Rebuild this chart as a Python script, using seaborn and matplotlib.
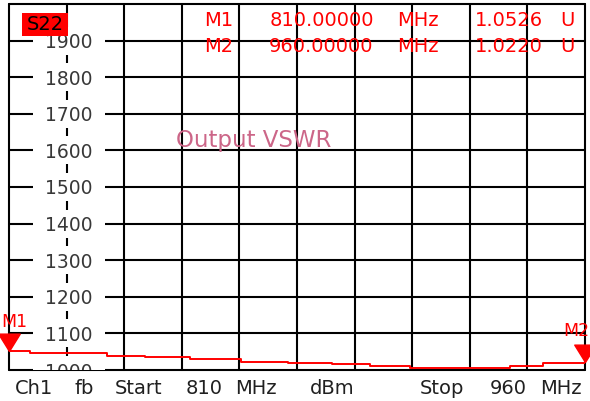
import matplotlib
matplotlib.use("Agg")
import matplotlib.pyplot as plt
from matplotlib.path import Path
from matplotlib.patches import Rectangle
import seaborn as sns

# trace (MHz, VSWR in milli-units)
freq_mhz = [810.0, 815.5, 835.5, 845.4, 857.1, 870.4, 882.7, 894.1, 904.0, 914.4, 940.5, 949.0, 960.0]
vswr_mu = [1052.6, 1047, 1038, 1035, 1030, 1023, 1020, 1016, 1011, 1006, 1011, 1018, 1022.0]

marker_names = ["M1", "M2"]
marker_freq = [810.0, 960.0]
marker_vswr = [1052.6, 1022.0]

x_ticks = [810 + 15 * i for i in range(11)]
y_ticks = list(range(1000, 2001, 100))
title = "Output VSWR"
trace_name = "S22"
footer_words = ["Ch1", "fb", "Start", "810", "MHz", "dBm", "Stop", "960", "MHz"]

W, H = 590, 401
RED = "#ff0000"

sns.set_style("white")
plt.rcParams["font.family"] = ["DejaVu Sans"]


def fx(x, y):
    # screen pixel -> figure fraction
    return x / W, 1 - y / H


fig = plt.figure(figsize=(W / 100, H / 100), dpi=100)
ax = fig.add_axes([9 / W, 1 - 370 / H, 576 / W, 366 / H])
ax.set_xlim(x_ticks[0], x_ticks[-1])
ax.set_ylim(y_ticks[0], y_ticks[-1])
ax.set_xticks([])
ax.set_yticks([])
for s in ax.spines.values():
    s.set_visible(False)

# graticule
for x in x_ticks:
    ax.axvline(x, color="black", lw=1.5, zorder=1, clip_on=False)
for y in y_ticks:
    ax.axhline(y, color="black", lw=1.5, zorder=1, clip_on=False)

# scale labels sit on the second vertical line, with a white patch behind
lab_x = 825.6
for v in y_ticks[:-1]:
    ax.add_patch(Rectangle((lab_x - 9.4, v - 38), 18.8, 76, facecolor="white",
                           edgecolor="none", zorder=2, clip_on=True))
    ax.text(lab_x, v, str(v), ha="center", va="center_baseline", fontsize=13.5,
            color="#383838", zorder=3, clip_on=True)

sns.lineplot(x=freq_mhz, y=vswr_mu, ax=ax, color=RED, lw=1.4,
             drawstyle="steps-post", estimator=None, sort=False, zorder=4)

tri = Path([(-0.62, 1.0), (0.62, 1.0), (0.0, 0.0), (-0.62, 1.0)],
           [Path.MOVETO, Path.LINETO, Path.LINETO, Path.CLOSEPOLY])
ax.plot(marker_freq, marker_vswr, ls="none", marker=tri, ms=25, color=RED,
        clip_on=False, zorder=5)

fig.text(*fx(1, 322), marker_names[0], color=RED, fontsize=12.5,
         ha="left", va="center")
fig.text(*fx(589, 331), marker_names[1], color=RED, fontsize=12.5,
         ha="right", va="center")

# marker readout
for i, (nm, f, v) in enumerate(zip(marker_names, marker_freq, marker_vswr)):
    yy = 21 + 25.5 * i
    kw = dict(color=RED, fontsize=14, ha="center", va="center", zorder=6)
    fig.text(*fx(219, yy), nm, **kw)
    fig.text(*fx(321.5, yy), f"{f:.5f}", **kw)
    fig.text(*fx(418, yy), "MHz", **kw)
    fig.text(*fx(508.5, yy), f"{v / 1000:.4f}", **kw)
    fig.text(*fx(567.5, yy), "U", **kw)

fig.add_artist(Rectangle(fx(22, 36), 46 / W, 23 / H, transform=fig.transFigure,
                         facecolor=RED, edgecolor="none", zorder=6))
fig.text(*fx(45, 25), trace_name, color="black", fontsize=14, ha="center",
         va="center", zorder=7)

fig.text(*fx(254, 140), title, color="#cc6688", fontsize=16.5, ha="center",
         va="center", zorder=6)

footer_x = [33.5, 84, 139, 204, 256, 332, 442, 508, 561]
for w, x in zip(footer_words, footer_x):
    fig.text(*fx(x, 389), w, color="#202020", fontsize=14, ha="center", va="center")

fig.savefig("out.png", dpi=100)
